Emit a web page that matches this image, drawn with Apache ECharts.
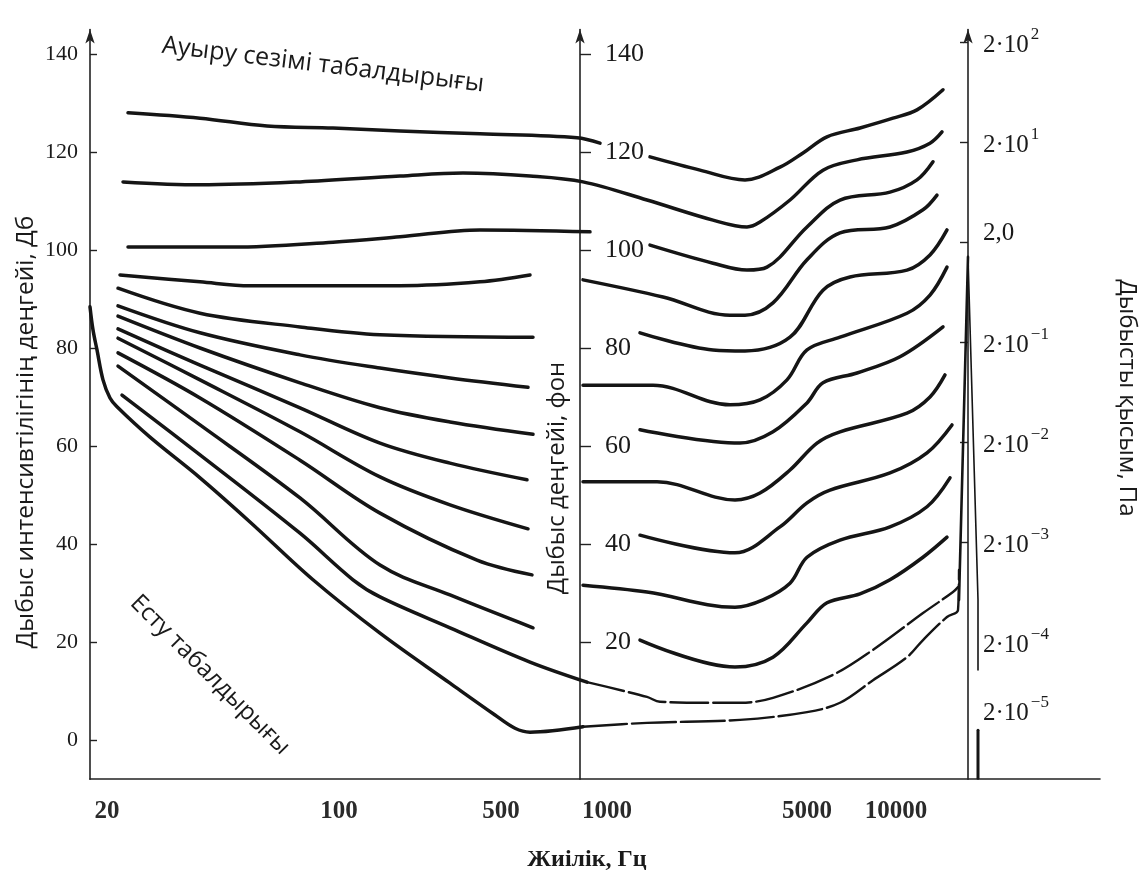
<!DOCTYPE html>
<html><head><meta charset="utf-8">
<script src="https://cdn.jsdelivr.net/npm/echarts@6/dist/echarts.min.js"></script>
<style>html,body{margin:0;padding:0;background:#fff}#c{width:1146px;height:873px}</style>
</head><body><div id="c"></div>
<script>
// X values are positions on the (hand-drawn, log-like) frequency scale, in axis units 0..101
const freqTickPos = [1.7, 24.9, 41.1, 51.7, 71.7, 80.6];
const freqTickLabels = ['20', '100', '500', '1000', '5000', '10000'];
const intensityTicks = [0, 20, 40, 60, 80, 100, 120, 140];     // dB
const loudnessTicks = [20, 40, 60, 80, 100, 120, 140];          // phon
const pressureLevels = [140, 120, 100, 80, 60, 40, 20, 0];
const pressureBase = ['2·10', '2·10', '2,0', '2·10', '2·10', '2·10', '2·10', '2·10'];
const pressureExp = ['2', '1', '', '−1', '−2', '−3', '−4', '−5'];

// Equal-loudness curves: [frequency-scale position, level dB]
const phon120a = [[3.8,128.0],[11.0,126.9],[17.7,125.3],[24.3,124.9],[31.0,124.3],[39.0,123.7],[48.7,122.9],[51.0,121.8]];
const phon120b = [[56.0,119.0],[61.0,116.3],[65.5,114.3],[69.0,116.9],[71.3,119.8],[73.7,123.1],[77.0,124.9],[80.3,126.9],[82.7,128.6],[85.3,132.7]];
const phon110 = [[3.3,113.9],[11.0,113.3],[21.0,113.9],[31.0,115.1],[37.3,115.7],[44.0,115.1],[49.3,113.9],[55.7,110.2],[62.3,106.1],[65.7,104.7],[67.0,105.7],[70.0,110.2],[73.3,116.3],[76.7,118.4],[81.7,120.0],[84.0,121.8],[85.2,124.1]];
const phon100a = [[3.8,100.6],[14.3,100.6],[24.3,101.6],[31.0,102.7],[39.0,104.1],[50.0,103.7]];
const phon100b = [[56.0,101.0],[62.3,97.3],[65.7,95.9],[67.7,96.5],[71.7,104.7],[75.0,110.2],[80.0,111.8],[82.7,114.3],[84.3,118.0]];
const phon90a = [[3.0,94.9],[11.0,93.5],[16.0,92.7],[31.0,92.7],[39.0,93.5],[44.0,94.9]];
const phon90b = [[49.3,93.9],[57.3,90.4],[64.0,86.7],[65.5,86.7],[68.3,89.2],[71.7,98.0],[75.0,103.5],[80.0,104.7],[83.3,108.2],[84.7,111.2]];
const phon80a = [[2.8,92.2],[11.0,87.1],[21.0,84.3],[29.0,82.7],[44.3,82.2]];
const phon80b = [[55.0,83.1],[62.3,79.6],[65.5,79.4],[70.0,82.2],[73.3,91.8],[76.0,94.5],[81.7,95.9],[84.0,99.0],[85.7,104.1]];
const phon70a = [[2.8,88.6],[11.0,83.1],[21.0,78.6],[29.0,75.9],[36.0,73.9],[43.8,72.0]];
const phon70b = [[49.3,72.4],[56.3,72.4],[64.0,68.4],[67.0,69.4],[69.7,73.5],[71.7,79.6],[75.0,82.2],[81.7,87.1],[84.0,90.8],[85.7,96.5]];
const phon60a = [[2.8,86.5],[11.0,80.0],[21.0,72.9],[29.0,67.8],[36.0,64.9],[44.3,62.4]];
const phon60b = [[55.0,63.3],[65.0,60.6],[68.3,62.9],[71.7,68.8],[73.3,72.9],[76.7,74.9],[81.0,78.2],[85.3,84.3]];
const phon50a = [[2.8,83.9],[11.0,76.5],[21.0,67.8],[29.0,60.6],[36.0,56.5],[43.7,53.1]];
const phon50b = [[49.3,52.7],[56.7,52.7],[64.5,49.0],[67.0,50.4],[70.0,55.1],[72.7,60.6],[75.0,62.9],[81.7,66.7],[84.0,70.0],[85.5,74.5]];
const phon40a = [[2.8,82.0],[11.0,73.5],[21.0,62.9],[29.0,53.7],[36.0,48.0],[43.8,43.1]];
const phon40b = [[55.0,41.8],[64.5,38.2],[69.0,43.5],[71.7,48.4],[74.0,51.0],[80.0,54.5],[83.7,58.6],[86.2,64.3]];
const phon30a = [[2.8,79.0],[11.0,69.8],[21.0,57.1],[29.0,46.3],[38.7,36.7],[44.2,33.7]];
const phon30b = [[49.3,31.6],[55.7,30.2],[64.5,27.1],[67.3,28.6],[70.0,32.0],[71.7,37.3],[75.0,40.8],[80.0,43.5],[83.7,47.6],[86.0,53.5]];
const phon20a = [[2.8,76.3],[11.0,64.3],[21.0,49.4],[29.0,35.7],[36.0,29.6],[44.3,22.9]];
const phon20b = [[55.0,20.4],[64.5,14.9],[68.3,16.9],[71.7,23.9],[73.7,28.0],[77.0,29.8],[80.0,32.7],[83.3,37.3],[85.7,41.4]];
const phon10a = [[3.2,70.4],[11.0,58.2],[21.0,42.2],[26.3,32.7],[29.0,29.2],[36.0,22.9],[44.0,15.9],[49.7,11.8]];
const phon10b = [[49.7,11.8],[55.7,8.8],[57.0,7.8],[62.3,7.6],[65.0,7.6],[68.3,8.6],[74.3,13.3],[78.3,18.4],[83.3,25.9],[86.3,30.2],[86.8,31.2]];
const thresholdA = [[0.0,88.4],[0.3,83.7],[0.7,79.6],[1.3,73.5],[2.0,69.8],[2.7,68.0],[6.0,61.8],[11.0,53.5],[16.0,44.5],[22.3,32.7],[29.0,21.8],[36.0,11.6],[40.5,5.1],[42.5,2.4],[44.0,1.6],[49.3,2.7]];
const thresholdB = [[49.3,2.7],[55.7,3.5],[65.0,4.1],[71.7,5.7],[75.0,7.6],[78.3,12.2],[81.7,16.9],[83.3,20.4],[85.7,25.1],[86.8,26.5],[86.9,34.7]];
const spikeLeft = [[87.8,98.6],[86.9,28.6]];
const spikeRight = [[87.8,98.6],[88.8,28.6],[88.8,14.3]];
const spikeFoot = [[88.8,2.0],[88.8,-7.8]];

const SERIF = 'Liberation Serif, Times New Roman, serif';
const SANS = 'Open Sans, Noto Sans, sans-serif';
const INK = '#151515';

function curve(data, width, dash) {
  return {
    type: 'line', data: data, xAxisIndex: 0, yAxisIndex: 0,
    showSymbol: false, symbol: 'none', smooth: 0.35, silent: true,
    lineStyle: { color: INK, width: width, type: dash || 'solid', cap: 'round', join: 'round' }
  };
}

const chart = echarts.init(document.getElementById('c'), null, { renderer: 'canvas' });
chart.setOption({
  backgroundColor: '#ffffff',
  animation: false,
  grid: { left: 90, right: 46, top: 29.5, bottom: 93.8, containLabel: false, outerBoundsMode: 'none' },
  xAxis: {
    type: 'value', min: 0, max: 101,
    axisLine: { show: true, onZero: false, lineStyle: { color: '#222', width: 1.6 } },
    axisTick: { show: false },
    splitLine: { show: false },
    axisLabel: {
      customValues: freqTickPos, margin: 20,
      fontFamily: SERIF, fontSize: 25, fontWeight: 'bold', color: '#2a2a2a',
      formatter: function (v) {
        let best = 0;
        freqTickPos.forEach(function (p, i) { if (Math.abs(p - v) < Math.abs(freqTickPos[best] - v)) best = i; });
        return freqTickLabels[best];
      }
    },
    name: 'Жиілік, Гц', nameLocation: 'middle', nameGap: 69,
    nameTextStyle: { fontFamily: SERIF, fontSize: 24, fontWeight: 'bold', color: '#1a1a1a', padding: [0, 16, 0, 0] }
  },
  yAxis: [
    {
      type: 'value', position: 'left', min: -8, max: 145,
      axisLine: { show: true, onZero: false, symbol: ['none', 'arrow'], symbolSize: [7, 14], lineStyle: { color: '#222', width: 1.6 } },
      axisTick: { show: true, customValues: intensityTicks, inside: true, length: 7, lineStyle: { color: '#222', width: 1.4 } },
      splitLine: { show: false },
      axisLabel: { customValues: intensityTicks, margin: 12, fontFamily: SERIF, fontSize: 22, color: '#1a1a1a' }
    },
    {
      type: 'value', position: 'left', offset: -490, min: -8, max: 145,
      axisLine: { show: true, onZero: false, symbol: ['none', 'arrow'], symbolSize: [7, 14], lineStyle: { color: '#222', width: 1.6 } },
      axisTick: { show: true, customValues: loudnessTicks, inside: true, length: 11, lineStyle: { color: '#222', width: 1.4 } },
      splitLine: { show: false },
      axisLabel: { customValues: loudnessTicks, inside: true, margin: 25, fontFamily: SERIF, fontSize: 26, color: '#1a1a1a' }
    },
    {
      type: 'value', position: 'right', offset: -132, min: -7.44, max: 142.5,
      axisLine: { show: true, onZero: false, symbol: ['none', 'arrow'], symbolSize: [7, 14], lineStyle: { color: '#222', width: 1.6 } },
      axisTick: { show: true, customValues: [140, 120, 100, 80, 60, 40], inside: true, length: 8, lineStyle: { color: '#222', width: 1.4 } },
      splitLine: { show: false },
      axisLabel: {
        customValues: pressureLevels, margin: 15, color: '#1a1a1a',
        formatter: function (v) {
          const i = pressureLevels.indexOf(Math.round(v));
          if (i < 0) return '';
          const base = pressureBase[i], e = pressureExp[i];
          if (!e) return '{b|' + base + '}\n{g24|}';
          if (i === pressureLevels.length - 1) return '{b|' + base + '}{s|' + e + '}\n{g64|}';
          return '{b|' + base + '}{s|' + e + '}';
        },
        rich: {
          b: { fontFamily: SERIF, fontSize: 25, lineHeight: 32, verticalAlign: 'bottom', color: '#1a1a1a' },
          s: { fontFamily: SERIF, fontSize: 17, lineHeight: 32, verticalAlign: 'top', color: '#1a1a1a', padding: [0, 0, 0, 2] },
          g24: { lineHeight: 24, fontSize: 1 },
          g64: { lineHeight: 64, fontSize: 1 }
        }
      }
    }
  ],
  graphic: [
    { type: 'text', x: 26, y: 432, rotation: Math.PI / 2, silent: true,
      style: { text: 'Дыбыс интенсивтілігінің деңгейі, Дб', fontFamily: SANS, fontSize: 24.5, fill: '#1a1a1a', align: 'center', verticalAlign: 'middle', textAlign: 'center', textVerticalAlign: 'middle' } },
    { type: 'text', x: 557, y: 478, rotation: Math.PI / 2, silent: true,
      style: { text: 'Дыбыс деңгейі, фон', fontFamily: SANS, fontSize: 24, fill: '#1a1a1a', align: 'center', verticalAlign: 'middle', textAlign: 'center', textVerticalAlign: 'middle' } },
    { type: 'text', x: 1127, y: 398, rotation: -Math.PI / 2, silent: true,
      style: { text: 'Дыбысты қысым, Па', fontFamily: SANS, fontSize: 24, fill: '#1a1a1a', align: 'center', verticalAlign: 'middle', textAlign: 'center', textVerticalAlign: 'middle' } },
    { type: 'text', x: 323, y: 65, rotation: -0.12, silent: true,
      style: { text: 'Ауыру сезімі табалдырығы', fontFamily: SANS, fontSize: 25, fill: '#1a1a1a', align: 'center', verticalAlign: 'middle', textAlign: 'center', textVerticalAlign: 'middle' } },
    { type: 'text', x: 210, y: 675, rotation: -Math.PI / 4, silent: true,
      style: { text: 'Есту табалдырығы', fontFamily: SANS, fontSize: 24, fill: '#1a1a1a', align: 'center', verticalAlign: 'middle', textAlign: 'center', textVerticalAlign: 'middle' } }
  ],
  series: [
    curve(phon120a, 3.5), curve(phon120b, 3.5),
    curve(phon110, 3.5),
    curve(phon100a, 3.5), curve(phon100b, 3.5),
    curve(phon90a, 3.5), curve(phon90b, 3.5),
    curve(phon80a, 3.5), curve(phon80b, 3.5),
    curve(phon70a, 3.5), curve(phon70b, 3.5),
    curve(phon60a, 3.5), curve(phon60b, 3.5),
    curve(phon50a, 3.5), curve(phon50b, 3.5),
    curve(phon40a, 3.5), curve(phon40b, 3.5),
    curve(phon30a, 3.5), curve(phon30b, 3.5),
    curve(phon20a, 3.5), curve(phon20b, 3.5),
    curve(phon10a, 3.5), curve(phon10b, 2.4, [38, 5]),
    curve(thresholdA, 3.5), curve(thresholdB, 2.4, [44, 5]),
    Object.assign(curve(spikeLeft, 2.6), { smooth: false }),
    Object.assign(curve(spikeRight, 1.6), { smooth: false }),
    Object.assign(curve(spikeFoot, 3), { smooth: false })
  ]
});
</script>
</body></html>
